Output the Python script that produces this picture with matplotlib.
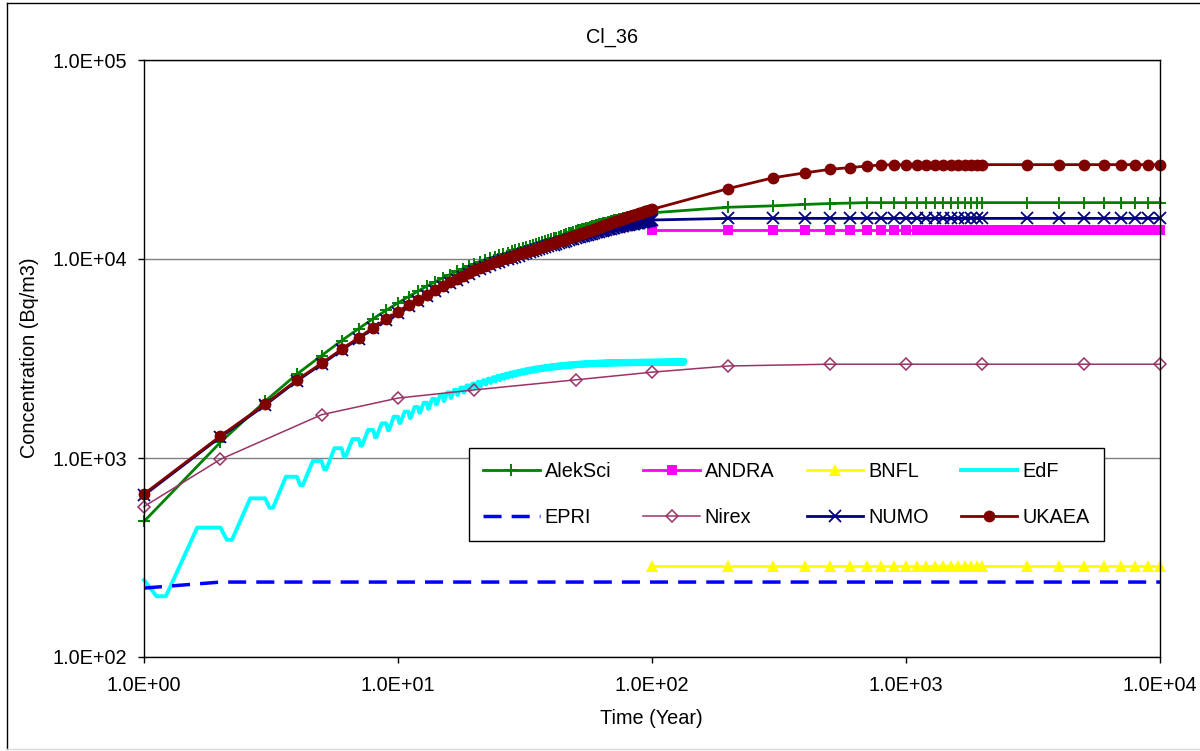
import matplotlib
matplotlib.use("Agg")
import matplotlib.pyplot as plt
from matplotlib.lines import Line2D
from matplotlib.ticker import FixedLocator, FixedFormatter, NullLocator

plt.rcParams['font.family'] = ['Liberation Sans', 'DejaVu Sans']
FS = 14.3

# ---------------------------------------------------------------- data
years_early = list(range(1, 101))
years_late = [200, 300, 400, 500, 600, 700, 800, 900, 1000,
              1100, 1200, 1300, 1400, 1500, 1600, 1700, 1800, 1900, 2000,
              3000, 4000, 5000, 6000, 7000, 8000, 9000, 10000]

alek_early = [480, 1200, 1930, 2640, 3270, 3890, 4470, 5020, 5530, 6020,
              6470, 6900, 7310, 7680, 8020, 8350, 8660, 8940, 9210, 9470,
              9710, 9920, 10120, 10290, 10470, 10630, 10780, 10920, 11070, 11190,
              11340, 11480, 11630, 11770, 11910, 12030, 12170, 12310, 12430, 12570,
              12700, 12820, 12950, 13080, 13200, 13330, 13450, 13570, 13690, 13810,
              13910, 14010, 14100, 14200, 14300, 14390, 14480, 14570, 14660, 14750,
              14840, 14920, 15000, 15090, 15170, 15250, 15340, 15410, 15480, 15570,
              15640, 15700, 15770, 15840, 15900, 15960, 16020, 16080, 16140, 16200,
              16250, 16310, 16360, 16410, 16460, 16510, 16560, 16600, 16650, 16690,
              16730, 16780, 16820, 16850, 16890, 16930, 16960, 16990, 17030, 17060]
alek_late = [18200, 18500, 18800, 19000, 19100, 19200, 19200, 19200, 19200,
             19200, 19200, 19200, 19200, 19200, 19200, 19200, 19200, 19200, 19200,
             19200, 19200, 19200, 19200, 19200, 19200, 19200, 19200]

andra_years = list(range(100, 10001, 100))
andra_level = 14000

bnfl_years = [100] + years_late
bnfl_level = 285

# EdF: concentration at the start of the record, then for each yearly
# release cycle the trough value and the plateau value
edf_start = 244
edf_low = [202, 388, 562, 731, 877, 1016, 1153, 1270, 1380, 1500,
           1590, 1690, 1770, 1860, 1935, 2005, 2075, 2135, 2190, 2245,
           2295, 2340, 2385, 2425, 2465, 2500, 2535, 2565, 2595, 2620,
           2645, 2670, 2690, 2710, 2730, 2745, 2760, 2775, 2790, 2800,
           2810, 2820, 2830, 2840, 2848, 2856, 2863, 2870, 2877, 2883,
           2889, 2894, 2899, 2903, 2907, 2911, 2915, 2918, 2921, 2924,
           2927, 2929, 2931, 2933, 2935, 2937, 2939, 2941, 2943, 2944,
           2945, 2946, 2947, 2948, 2949, 2950, 2951, 2952, 2953, 2954,
           2955, 2956, 2956, 2957, 2957, 2958, 2958, 2959, 2959, 2960,
           2960, 2961, 2961, 2961, 2962, 2962, 2962, 2963, 2963, 2963,
           2964, 2964, 2964, 2964, 2965, 2965, 2965, 2965, 2965, 2966,
           2966, 2966, 2966, 2966, 2967, 2967, 2967, 2967, 2967, 2967,
           2968, 2968, 2968, 2968, 2968, 2968, 2968, 2968, 2968, 2968,
           2968, 2968, 2968, 2968]
edf_high = [447, 627, 805, 966, 1120, 1245, 1383, 1493, 1613, 1710,
            1805, 1895, 1980, 2060, 2135, 2200, 2260, 2315, 2365, 2415,
            2460, 2505, 2545, 2585, 2620, 2655, 2685, 2715, 2740, 2765,
            2790, 2810, 2830, 2850, 2865, 2880, 2895, 2908, 2920, 2932,
            2943, 2953, 2962, 2971, 2979, 2986, 2993, 3000, 3006, 3012,
            3017, 3022, 3026, 3030, 3034, 3038, 3041, 3044, 3047, 3050,
            3052, 3054, 3056, 3058, 3060, 3062, 3064, 3066, 3067, 3068,
            3069, 3070, 3071, 3072, 3073, 3074, 3075, 3076, 3077, 3078,
            3079, 3079, 3080, 3080, 3081, 3081, 3082, 3082, 3083, 3083,
            3084, 3084, 3084, 3085, 3085, 3085, 3086, 3086, 3086, 3087,
            3087, 3087, 3087, 3088, 3088, 3088, 3088, 3089, 3089, 3089,
            3089, 3089, 3090, 3090, 3090, 3090, 3090, 3090, 3091, 3091,
            3091, 3091, 3091, 3091, 3091, 3092, 3092, 3092, 3092, 3092,
            3092, 3092, 3092, 3092]

epri_years = [1, 2, 10000]
epri_vals = [222, 238, 238]

nirex_years = [1, 2, 5, 10, 20, 50, 100, 200, 500, 1000, 2000, 5000, 10000]
nirex_vals = [570, 985, 1650, 2000, 2200, 2470, 2700, 2900, 2960, 2960, 2960, 2960, 2960]

numo_early = [650, 1275, 1845, 2440, 2960, 3480, 3985, 4475, 4930, 5365,
              5780, 6175, 6550, 6905, 7240, 7560, 7865, 8155, 8430, 8690,
              8920, 9130, 9325, 9505, 9675, 9835, 9985, 10130, 10270, 10405,
              10570, 10700, 10830, 10960, 11085, 11210, 11335, 11455, 11575, 11700,
              11805, 11910, 12015, 12120, 12225, 12330, 12435, 12540, 12645, 12750,
              12835, 12920, 13005, 13090, 13175, 13260, 13345, 13430, 13515, 13600,
              13670, 13740, 13810, 13880, 13950, 14020, 14090, 14160, 14230, 14300,
              14355, 14410, 14465, 14520, 14575, 14630, 14685, 14740, 14795, 14850,
              14895, 14940, 14985, 15030, 15075, 15120, 15165, 15210, 15255, 15300,
              15340, 15380, 15420, 15460, 15500, 15540, 15580, 15620, 15660, 15700]
numo_level_late = 16000

ukaea_early = [659, 1290, 1866, 2466, 2990, 3517, 4025, 4520, 4980, 5420,
               5840, 6240, 6620, 6980, 7320, 7645, 7955, 8250, 8530, 8795,
               9030, 9245, 9445, 9630, 9805, 9970, 10125, 10275, 10420, 10560,
               10698, 10834, 10968, 11101, 11233, 11364, 11494, 11623, 11751, 11878,
               12004, 12129, 12253, 12376, 12498, 12619, 12739, 12858, 12976, 13093,
               13211, 13328, 13444, 13559, 13673, 13786, 13898, 14009, 14119, 14228,
               14336, 14443, 14549, 14654, 14758, 14861, 14963, 15064, 15164, 15263,
               15361, 15458, 15554, 15649, 15743, 15836, 15928, 16019, 16109, 16198,
               16286, 16373, 16459, 16544, 16628, 16711, 16793, 16874, 16954, 17033,
               17111, 17188, 17264, 17339, 17413, 17486, 17558, 17629, 17699, 17768]
ukaea_late = [22600, 25600, 27100, 28200, 28800, 29300, 29700, 29750, 29800,
              29800, 29800, 29800, 29800, 29800, 29800, 29800, 29800, 29800, 29800,
              29800, 29800, 29800, 29800, 29800, 29800, 29800, 29800]

x_ticks = [1, 10, 100, 1000, 10000]
x_tick_labels = ['1.0E+00', '1.0E+01', '1.0E+02', '1.0E+03', '1.0E+04']
y_ticks = [100, 1000, 10000, 100000]
y_tick_labels = ['1.0E+02', '1.0E+03', '1.0E+04', '1.0E+05']

# ---------------------------------------------------------------- series assembly
edf_t = [1.0]
edf_c = [edf_start]
for n, (lo, hi) in enumerate(zip(edf_low, edf_high), start=1):
    edf_t += [n + 0.12, n + 0.22, n + 0.62, n + 1.0]
    edf_c += [lo, lo, hi, hi]

years_all = years_early + years_late

# ---------------------------------------------------------------- figure
W, H = 1200, 751
fig = plt.figure(figsize=(W / 100, H / 100), dpi=100)
L, R, T, B = 144, 1160, 60, 657
ax = fig.add_axes([L / W, 1 - B / H, (R - L) / W, (B - T) / H])
ax.set_xscale('log')
ax.set_yscale('log')

LW = 2.0
common = dict(clip_on=False)
h_alek, = ax.plot(years_all, alek_early + alek_late, color='#008000', lw=LW,
                  marker='+', ms=9, mew=1.4, label='AlekSci', **common)
h_andra, = ax.plot(andra_years, [andra_level] * len(andra_years), color='#FF00FF', lw=LW,
                   marker='s', ms=7, mew=0, label='ANDRA', **common)
h_bnfl, = ax.plot(bnfl_years, [bnfl_level] * len(bnfl_years), color='#FFFF00', lw=LW,
                  marker='^', ms=8.5, mew=0, label='BNFL', **common)
h_edf, = ax.plot(edf_t, edf_c, color='#00FFFF', lw=2.8, label='EdF', **common)
h_epri, = ax.plot(epri_years, epri_vals, color='#0000FF', lw=2.5, dashes=(5.2, 2.9),
                  label='EPRI', **common)
h_nirex, = ax.plot(nirex_years, nirex_vals, color='#993366', lw=1.1,
                   marker='D', ms=6.5, mfc='none', mec='#993366', mew=1.1,
                   label='Nirex', **common)
h_numo, = ax.plot(years_all, numo_early + [numo_level_late] * len(years_late),
                  color='#000080', lw=LW, marker='x', ms=8, mew=1.3,
                  label='NUMO', **common)
h_ukaea, = ax.plot(years_all, ukaea_early + ukaea_late, color='#800000', lw=LW,
                   marker='o', ms=8.5, mew=0, label='UKAEA', **common)

ax.set_xlim(1, 10000)
ax.set_ylim(100, 100000)
ax.xaxis.set_major_locator(FixedLocator(x_ticks))
ax.xaxis.set_major_formatter(FixedFormatter(x_tick_labels))
ax.yaxis.set_major_locator(FixedLocator(y_ticks))
ax.yaxis.set_major_formatter(FixedFormatter(y_tick_labels))
ax.xaxis.set_minor_locator(NullLocator())
ax.yaxis.set_minor_locator(NullLocator())
ax.tick_params(axis='both', which='major', direction='out', length=4.5,
               width=1, color='black', labelsize=FS)
ax.tick_params(axis='x', pad=9)
ax.tick_params(axis='y', pad=8)
ax.yaxis.grid(True, color='#808080', lw=1)
ax.set_axisbelow(True)
for s in ax.spines.values():
    s.set_color('black')
    s.set_linewidth(1)

fig.text(612 / W, 1 - 37 / H, 'Cl_36', ha='center', va='center', fontsize=FS)
fig.text(651 / W, 1 - 719 / H, 'Time (Year)', ha='center', va='center', fontsize=FS)
fig.text(30 / W, 1 - 358 / H, 'Concentration (Bq/m3)', ha='center', va='center',
         rotation=90, fontsize=FS)

# legend reads row by row; matplotlib fills columns first
order = [h_alek, h_epri, h_andra, h_nirex, h_bnfl, h_numo, h_edf, h_ukaea]
leg = ax.legend(handles=order, labels=[h.get_label() for h in order],
                loc='upper left', bbox_to_anchor=(469 / W, 1 - 448 / H),
                bbox_transform=fig.transFigure, ncol=4, fontsize=FS,
                frameon=True, fancybox=False, shadow=False, borderaxespad=0,
                handlelength=2.85, handletextpad=0.25, columnspacing=1.62,
                borderpad=0.7, labelspacing=1.35, numpoints=1)
leg.get_frame().set_edgecolor('black')
leg.get_frame().set_linewidth(1)
leg.get_frame().set_facecolor('white')
leg.get_frame().set_alpha(1)

# chart-area border
fig.add_artist(Line2D([7 / W, 7 / W], [2 / H, 1 - 3 / H], transform=fig.transFigure,
                      color='black', lw=1))
fig.add_artist(Line2D([7 / W, 1], [1 - 3 / H, 1 - 3 / H], transform=fig.transFigure,
                      color='black', lw=1))
fig.add_artist(Line2D([7 / W, 1], [2 / H, 2 / H], transform=fig.transFigure,
                      color='#d9d9d9', lw=1))

fig.savefig('out.png', dpi=100)
